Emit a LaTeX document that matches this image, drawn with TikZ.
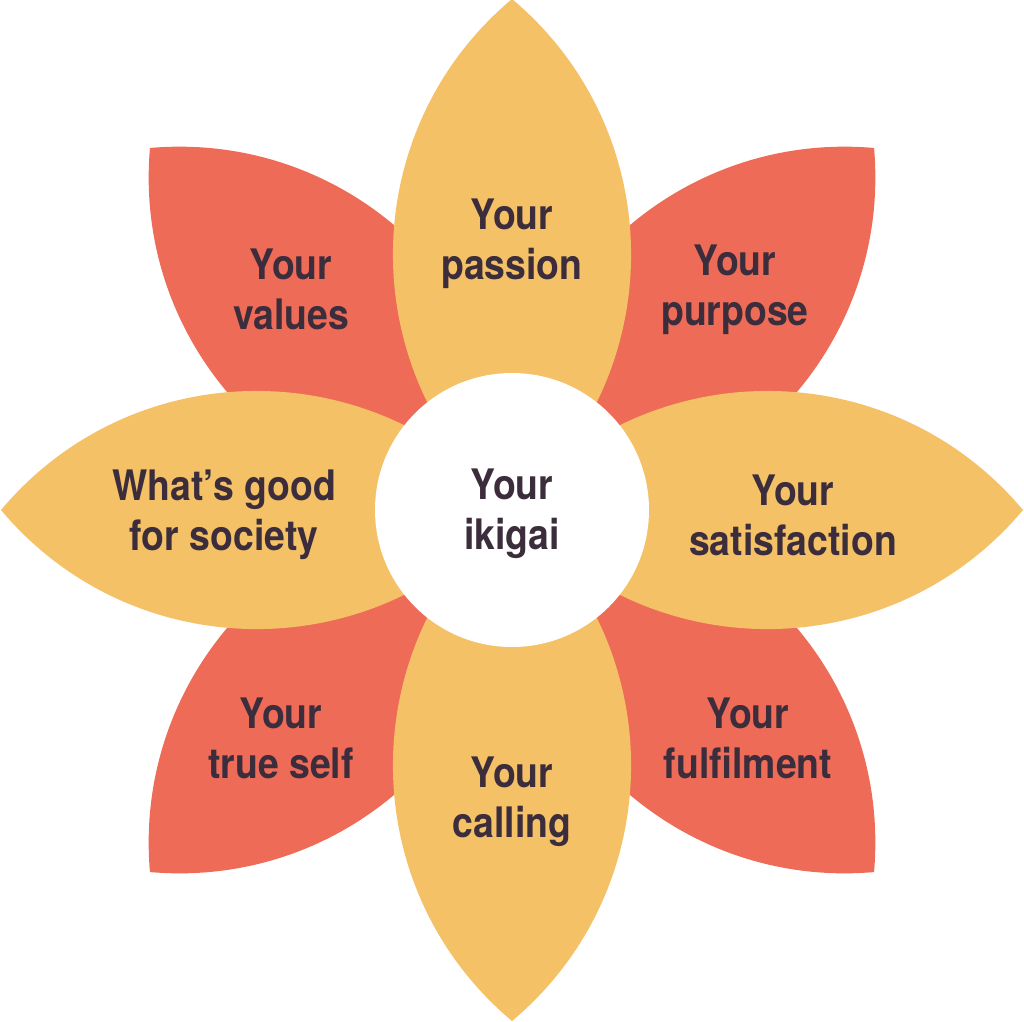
\documentclass[tikz,border=0pt]{standalone}
\usepackage{fontspec}
\setmainfont{TeX Gyre Heros}[FakeStretch=0.89]
\usepackage{tikz}
\usetikzlibrary{positioning}
\definecolor{petalsun}{HTML}{F4C167}
\definecolor{petalcoral}{HTML}{EE6B58}
\definecolor{ink}{HTML}{3B2D3B}
\tikzset{
  petaltext/.style={text=ink,font=\fontsize{42}{50}\selectfont\bfseries,align=center,inner sep=0pt},
}
\begin{document}
\begin{tikzpicture}[x=1pt,y=-1pt]
\useasboundingbox (0,0) rectangle (1024,1021);
% diagonal petals (behind)
\foreach \ang in {45,135,225,315}
  \fill[petalcoral,shift={(512,510)},rotate=\ang] (0,0) to[out=50,in=130,looseness=1.04] (512,0) to[out=-130,in=-50,looseness=1.04] (0,0);
% axis petals
\foreach \ang in {0,90,180,270}
  \fill[petalsun,shift={(512,510)},rotate=\ang] (0,0) to[out=50,in=130,looseness=1.04] (511,0) to[out=-130,in=-50,looseness=1.04] (0,0);
% heart
\node[circle,fill=white,minimum size=274pt,inner sep=0pt] (ikigai) at (512,510) {};
\node[petaltext] (heart) at (512,514) {Your\\ikigai};
% labels
\node[petaltext] (passion) at (512,244) {Your\\passion};
\node[petaltext] (values) at (291,289) {Your\\values};
\node[petaltext] (purpose) at (735,290) {Your\\purpose};
\node[petaltext] (society) at (224,515) {What’s good\\for society};
\node[petaltext] (satisfaction) at (793,515) {Your\\satisfaction};
\node[petaltext] (trueself) at (281,738) {Your\\true self};
\node[petaltext] (calling) at (512,802) {Your\\calling};
\node[petaltext] (fulfilment) at (748,738) {Your\\fulfilment};
\end{tikzpicture}
\end{document}
